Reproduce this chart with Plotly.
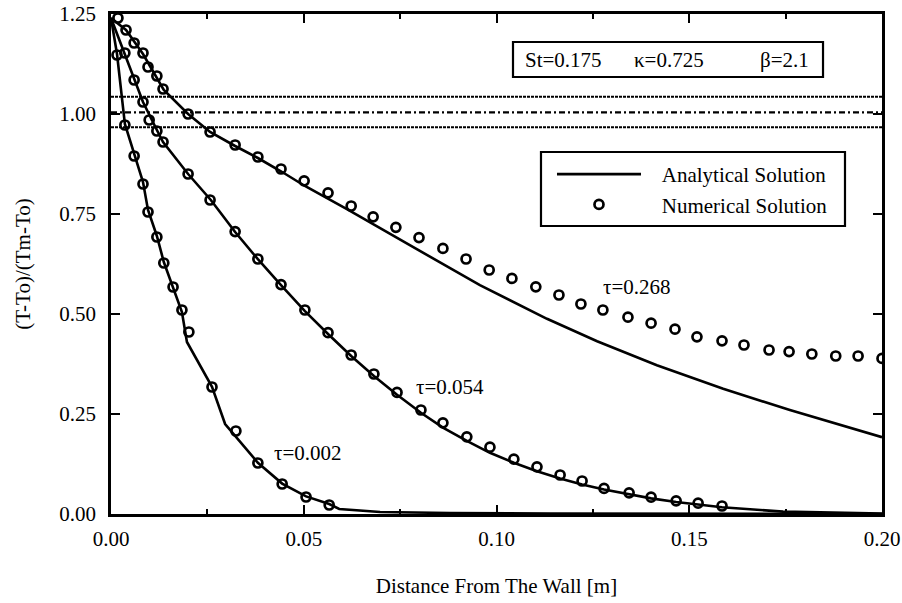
import plotly.graph_objects as go

# ---------------- data ----------------
# tau = 0.002
ana_002_x = [0.0, 0.00156, 0.0036, 0.006, 0.0083, 0.0096, 0.0119, 0.0137, 0.0161, 0.0184, 0.0197,
             0.0262, 0.0296, 0.0381, 0.0444, 0.0506, 0.0566, 0.0592, 0.0698, 0.088, 0.114, 0.153, 0.2]
ana_002_y = [1.24, 1.15, 0.975, 0.9, 0.83, 0.76, 0.695, 0.63, 0.565, 0.505, 0.43,
             0.318, 0.225, 0.128, 0.076, 0.044, 0.025, 0.0125, 0.005, 0.0025, 0.001, 0.0, 0.0]
num_002_x = [0.00156, 0.0036, 0.006, 0.0083, 0.0096, 0.0119, 0.0137, 0.0161, 0.0184, 0.0202,
             0.0262, 0.0324, 0.0381, 0.0444, 0.0506, 0.0566]
num_002_y = [1.1475, 0.9725, 0.895, 0.825, 0.755, 0.6925, 0.6275, 0.5675, 0.51, 0.455,
             0.3175, 0.2075, 0.1275, 0.075, 0.0425, 0.0225]

# tau = 0.054
ana_054_x = [0.0, 0.0036, 0.006, 0.0083, 0.0119, 0.0135, 0.02, 0.0259, 0.0322, 0.0381, 0.0441,
             0.0503, 0.0563, 0.0623, 0.0682, 0.0742, 0.0804, 0.0861, 0.0923, 0.0983, 0.1045,
             0.1105, 0.1165, 0.1222, 0.1279, 0.1344, 0.1401, 0.1466, 0.1523, 0.1585, 0.1743,
             0.1917, 0.2]
ana_054_y = [1.24, 1.15, 1.085, 1.03, 0.96, 0.93, 0.85, 0.785, 0.705, 0.637, 0.572,
             0.507, 0.45, 0.395, 0.345, 0.298, 0.253, 0.216, 0.183, 0.153, 0.128,
             0.107, 0.089, 0.074, 0.061, 0.05, 0.039, 0.03, 0.023, 0.017, 0.006,
             0.002, 0.001]
num_054_x = [0.0036, 0.006, 0.0083, 0.0099, 0.0119, 0.0135, 0.02, 0.0257, 0.0322, 0.0381,
             0.0441, 0.0503, 0.0563, 0.0623, 0.0682, 0.0742, 0.0804, 0.0861, 0.0923, 0.0983,
             0.1045, 0.1105, 0.1165, 0.1222, 0.1279, 0.1344, 0.1401, 0.1466, 0.1523, 0.1585]
num_054_y = [1.1525, 1.085, 1.03, 0.985, 0.9575, 0.93, 0.85, 0.785, 0.706, 0.6375,
             0.5735, 0.51, 0.4533, 0.3975, 0.35, 0.304, 0.26, 0.228, 0.193, 0.167,
             0.137, 0.118, 0.0975, 0.0825, 0.064, 0.053, 0.042, 0.033, 0.027, 0.02]

# tau = 0.268
ana_268_x = [0.0, 0.0039, 0.0083, 0.0137, 0.02, 0.0257, 0.0322, 0.0381, 0.0444, 0.0503,
             0.0612, 0.0783, 0.0957, 0.1131, 0.1261, 0.1416, 0.1588, 0.1761, 0.2]
ana_268_y = [1.24, 1.21, 1.15, 1.06, 1.0, 0.955, 0.92, 0.89, 0.855, 0.82,
             0.762, 0.668, 0.572, 0.488, 0.432, 0.372, 0.313, 0.26, 0.192]
num_268_x = [0.0018, 0.0039, 0.006, 0.0083, 0.0096, 0.0119, 0.0135, 0.02, 0.0257, 0.0322,
             0.0381, 0.0441, 0.0501, 0.0563, 0.0623, 0.068, 0.0739, 0.0799, 0.0861, 0.0921,
             0.0981, 0.104, 0.1102, 0.1162, 0.1219, 0.1276, 0.1341, 0.1401, 0.1463, 0.152,
             0.1585, 0.1642, 0.1707, 0.1759, 0.1818, 0.188, 0.1938, 0.2]
num_268_y = [1.24, 1.21, 1.1775, 1.1525, 1.1175, 1.095, 1.0625, 1.0, 0.955, 0.9225,
             0.8925, 0.8625, 0.833, 0.803, 0.77, 0.743, 0.7167, 0.691, 0.664, 0.6375,
             0.61, 0.589, 0.568, 0.5475, 0.525, 0.51, 0.492, 0.477, 0.462, 0.443,
             0.433, 0.4225, 0.41, 0.406, 0.40, 0.395, 0.395, 0.389]

# reference horizontal lines
ref_x = [0.0, 0.2]
ref_upper = 1.043
ref_mid = 1.004
ref_lower = 0.967

tau_labels = ["τ=0.002", "τ=0.054", "τ=0.268"]
tau_label_x = [0.051, 0.0879, 0.1364]
tau_label_y = [0.1525, 0.318, 0.5675]

params = ["St=0.175", "κ=0.725", "β=2.1"]

# ---------------- figure ----------------
FONT = "Liberation Serif"
fig = go.Figure()

line_style = dict(color="black", width=2.6)
marker_style = dict(symbol="circle-open", size=9, color="black", line=dict(width=2.7, color="black"))

# horizontal reference lines
fig.add_trace(go.Scatter(x=ref_x, y=[ref_upper] * 2, mode="lines", showlegend=False,
                         line=dict(color="black", width=2, dash="3px,1px"), hoverinfo="skip"))
fig.add_trace(go.Scatter(x=ref_x, y=[ref_mid] * 2, mode="lines", showlegend=False,
                         line=dict(color="black", width=2.2, dash="6px,3px,2px,3px"), hoverinfo="skip"))
fig.add_trace(go.Scatter(x=ref_x, y=[ref_lower] * 2, mode="lines", showlegend=False,
                         line=dict(color="black", width=2, dash="3px,1px"), hoverinfo="skip"))

NB = "\u00a0\u00a0\u00a0"
for i, (ax, ay) in enumerate([(ana_002_x, ana_002_y), (ana_054_x, ana_054_y), (ana_268_x, ana_268_y)]):
    fig.add_trace(go.Scatter(x=ax, y=ay, mode="lines", line=line_style,
                             name=NB + "Analytical Solution", legendgroup="ana", showlegend=(i == 0)))
for i, (nx, ny) in enumerate([(num_002_x, num_002_y), (num_054_x, num_054_y), (num_268_x, num_268_y)]):
    fig.add_trace(go.Scatter(x=nx, y=ny, mode="markers", marker=marker_style,
                             name=NB + "Numerical Solution", legendgroup="num", showlegend=(i == 0)))

for t, tx, ty in zip(tau_labels, tau_label_x, tau_label_y):
    fig.add_annotation(x=tx, y=ty, xref="x", yref="y", text=t, showarrow=False,
                       xanchor="center", yanchor="middle",
                       font=dict(family=FONT, size=21, color="black"))

# parameter box
fig.add_shape(type="rect", xref="paper", yref="paper", x0=0.5214, x1=0.9235, y0=0.874, y1=0.944,
              line=dict(color="black", width=2.2), fillcolor="white", layer="above")
for p, px in zip(params, [0.5875, 0.7237, 0.8735]):
    fig.add_annotation(x=px, y=0.908, xref="paper", yref="paper", text=p, showarrow=False,
                       xanchor="center", yanchor="middle",
                       font=dict(family=FONT, size=21, color="black"))

# legend frame
fig.add_shape(type="rect", xref="paper", yref="paper", x0=0.5577, x1=0.952, y0=0.576, y1=0.724,
              line=dict(color="black", width=2.2), fillcolor="white", layer="above")

axis_common = dict(
    showline=True, linecolor="black", linewidth=2.5, mirror="ticks",
    ticks="inside", ticklen=9, tickwidth=2, tickcolor="black",
    showgrid=False, zeroline=False, automargin=False,
    tickfont=dict(family=FONT, size=21, color="black"),
)

fig.update_layout(
    width=902, height=603,
    margin=dict(l=111, r=20, t=14, b=89),
    paper_bgcolor="white", plot_bgcolor="white",
    font=dict(family=FONT, size=21, color="black"),
    xaxis=dict(range=[0, 0.2], tick0=0, dtick=0.05, tickformat=".2f",
               minor=dict(ticks="inside", ticklen=5, tickwidth=2, tickcolor="black", dtick=0.025, tick0=0),
               ticklabelstandoff=4,
               title=dict(text="Distance From The Wall [m]", standoff=29,
                          font=dict(family=FONT, size=21, color="black")),
               **axis_common),
    yaxis=dict(range=[0, 1.25], tick0=0, dtick=0.25, tickformat=".2f",
               ticklabelstandoff=8,
               title=dict(text="(T-To)/(Tm-To)", standoff=23,
                          font=dict(family=FONT, size=21, color="black")),
               **axis_common),
    legend=dict(x=0.5577 + 11 / 771, y=0.72, xanchor="left", yanchor="top",
                borderwidth=0, bgcolor="rgba(0,0,0,0)", tracegroupgap=0,
                itemwidth=84, font=dict(family=FONT, size=21, color="black")),
)

fig.write_html("out.html")
